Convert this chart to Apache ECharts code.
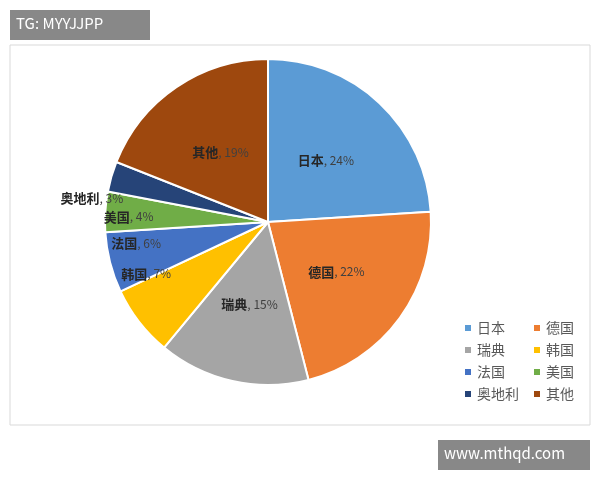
<!DOCTYPE html>
<html><head><meta charset="utf-8">
<script src="https://cdn.jsdelivr.net/npm/echarts@6/dist/echarts.min.js"></script>
<style>body{margin:0;background:#fff}#c{width:600px;height:480px}</style>
</head><body><div id="c"></div>
<script>
var countries = ['日本', '德国', '瑞典', '韩国', '法国', '美国', '奥地利', '其他'];
var shares = [24, 22, 15, 7, 6, 4, 3, 19];
var colors = ['#5B9BD5', '#ED7D31', '#A5A5A5', '#FFC000', '#4472C4', '#70AD47', '#264478', '#9E480E'];
var leftCol = ['日本', '瑞典', '法国', '奥地利'];
var rightCol = ['德国', '韩国', '美国', '其他'];
// shift labels of the thin slices towards the rim
var labelShift = { 3: -55, 4: -50, 5: -55, 6: -95 };

var chart = echarts.init(document.getElementById('c'));
var font = '"Noto Sans CJK SC", sans-serif';
function makeLegend(left, names) {
    return {
        orient: 'vertical', left: left, top: 316,
        itemWidth: 8, itemHeight: 8, itemGap: 8, icon: 'rect',
        textStyle: { fontFamily: font, fontSize: 14, color: '#595959' },
        data: names
    };
}
chart.setOption({
    color: colors,
    graphic: [
        { type: 'rect', shape: { x: 10, y: 45, width: 580, height: 380 }, style: { fill: 'none', stroke: '#d9d9d9', lineWidth: 1 } },
        { type: 'rect', shape: { x: 10, y: 10, width: 140, height: 30 }, style: { fill: '#888' } },
        { type: 'text', left: 16, top: 16, style: { text: 'TG: MYYJJPP', fill: '#fff', font: '15px ' + font } },
        { type: 'rect', shape: { x: 438, y: 440, width: 152, height: 30 }, style: { fill: '#888' } },
        { type: 'text', left: 444, top: 446, style: { text: 'www.mthqd.com', fill: '#fff', font: '15px ' + font } }
    ],
    legend: [makeLegend(458, leftCol), makeLegend(527, rightCol)],
    series: [{
        type: 'pie',
        center: [268, 222],
        radius: [0, 163],
        startAngle: 90,
        clockwise: true,
        itemStyle: { borderColor: '#fff', borderWidth: 2 },
        label: {
            position: 'inner',
            fontFamily: font,
            fontSize: 12,
            color: '#404040',
            formatter: function (p) { return '{b|' + p.name + '}, ' + p.value + '%'; },
            rich: { b: { fontWeight: 'bold', fontSize: 13, color: '#262626', fontFamily: font } }
        },
        labelLayout: function (p) {
            var d = labelShift[p.dataIndex];
            return d ? { dx: d } : {};
        },
        data: countries.map(function (n, i) { return { name: n, value: shares[i] }; })
    }]
});
</script></body></html>
